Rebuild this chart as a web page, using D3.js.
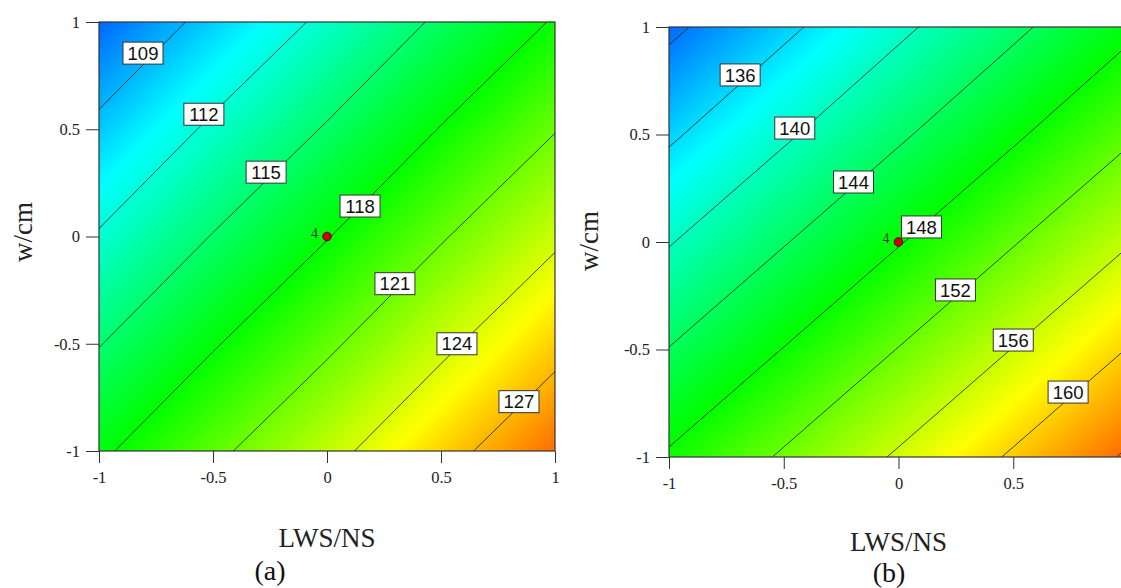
<!DOCTYPE html>
<html><head><meta charset="utf-8">
<script src="https://cdn.jsdelivr.net/npm/d3@7"></script>
<style>body{margin:0;background:#fff;} svg{display:block;}</style>
</head><body>
<svg id="chart" width="1121" height="588"></svg>
<script>
// ---------------- data ----------------
const gridX = [-1, -0.5, 0, 0.5, 1];          // LWS/NS sample positions
const gridY = [1, 0.5, 0, -0.5, -1];          // w/cm sample positions (top row first)

// response, row-major (top row w=1 first)
const surfaceA = [
  106.8, 109.7, 112.5, 115.4, 118.2,
  109.5, 112.4, 115.2, 118.1, 120.9,
  112.2, 115.1, 117.9, 120.8, 123.6,
  114.9, 117.8, 120.6, 123.5, 126.3,
  117.6, 120.5, 123.3, 126.2, 129.0
];
// response
const surfaceB = [
  131.3, 135.3, 139.3, 143.3, 147.3,
  135.5, 139.5, 143.5, 147.5, 151.5,
  139.8, 143.8, 147.8, 151.8, 155.8,
  144.1, 148.1, 152.1, 156.1, 160.1,
  148.4, 152.4, 156.4, 160.4, 164.4
];

const levelsA = [109, 112, 115, 118, 121, 124, 127];
const levelsB = [132, 136, 140, 144, 148, 152, 156, 160, 164];

const labelTextA = ["109", "112", "115", "118", "121", "124", "127"];
const labelXA = [-0.807, -0.54, -0.267, 0.145, 0.298, 0.57, 0.842];
const labelYA = [0.855, 0.57, 0.30, 0.142, -0.22, -0.50, -0.77];

const labelTextB = ["136", "140", "144", "148", "152", "156", "160"];
const labelXB = [-0.69, -0.452, -0.196, 0.10, 0.248, 0.50, 0.739];
const labelYB = [0.777, 0.53, 0.279, 0.07, -0.223, -0.456, -0.698];

const pointX = [0];
const pointY = [0];
const pointText = ["4"];

const tickValues = [-1, -0.5, 0, 0.5, 1];
const tickLabels = ["-1", "-0.5", "0", "0.5", "1"];

const colorStops = ["#0000ff", "#00ffff", "#00ff00", "#ffff00", "#ff0000"];
const colorDomainA = [104, 111, 118, 125, 132];
const colorDomainB = [127, 137.4, 147.8, 158.2, 168.6];

const xTitle = "LWS/NS";
const yTitle = "w/cm";
const panelTags = ["(a)", "(b)"];

// ---------------- drawing ----------------
const W = 1121;
const svg = d3.select("#chart");
const serif = "'Liberation Serif','Times New Roman',serif";
const sans = "'Liberation Sans',Arial,sans-serif";

function drawPanel(cfg) {
  const xs = d3.scaleLinear().domain([-1, 1]).range([cfg.left, cfg.right]);
  const ys = d3.scaleLinear().domain([-1, 1]).range([cfg.bottom, cfg.top]);
  const n = gridX.length, m = gridY.length;
  const gx = d3.scaleLinear().domain([0.5, n - 0.5]).range([gridX[0], gridX[n - 1]]);
  const gy = d3.scaleLinear().domain([0.5, m - 0.5]).range([gridY[0], gridY[m - 1]]);
  const proj = d3.geoTransform({
    point(x, y) { this.stream.point(xs(gx(x)), ys(gy(y))); }
  });
  const path = d3.geoPath(proj);

  const clipId = "clip" + cfg.id;
  svg.append("clipPath").attr("id", clipId).append("rect")
    .attr("x", cfg.left).attr("y", cfg.top)
    .attr("width", cfg.right - cfg.left).attr("height", cfg.bottom - cfg.top);

  const g = svg.append("g");
  const plot = g.append("g").attr("clip-path", `url(#${clipId})`);

  const values = cfg.values;
  const lo = d3.min(values), hi = d3.max(values);
  const color = d3.scaleLinear().domain(cfg.colorDomain).range(colorStops).clamp(true);
  const step = (hi - lo) / 260;
  const th = d3.range(lo, hi, step);
  const bands = d3.contours().size([n, m]).thresholds(th)(values);

  plot.append("rect")
    .attr("x", cfg.left).attr("y", cfg.top)
    .attr("width", cfg.right - cfg.left).attr("height", cfg.bottom - cfg.top)
    .attr("fill", color(lo));
  plot.selectAll("path.band").data(bands).join("path")
    .attr("class", "band")
    .attr("d", path)
    .attr("fill", d => color(d.value + step / 2));

  const lines = d3.contours().size([n, m]).thresholds(cfg.levels)(values);
  plot.selectAll("path.iso").data(lines).join("path")
    .attr("class", "iso")
    .attr("d", path)
    .attr("fill", "none")
    .attr("stroke", "#1c2a1c")
    .attr("stroke-width", 0.85);

  // contour labels
  const lab = plot.selectAll("g.lab").data(cfg.labelText).join("g")
    .attr("class", "lab")
    .attr("transform", (d, i) => `translate(${xs(cfg.labelX[i])},${ys(cfg.labelY[i])})`);
  lab.append("rect")
    .attr("x", -20).attr("y", -11).attr("width", 40).attr("height", 22)
    .attr("fill", "#fff").attr("stroke", "#333").attr("stroke-width", 1);
  lab.append("text")
    .attr("text-anchor", "middle").attr("dy", "0.36em")
    .attr("font-family", sans).attr("font-size", 18.5).attr("fill", "#111")
    .text(d => d);

  // design point
  plot.selectAll("circle.pt").data(pointX).join("circle")
    .attr("class", "pt")
    .attr("cx", (d, i) => xs(pointX[i])).attr("cy", (d, i) => ys(pointY[i]))
    .attr("r", 4.3).attr("fill", "#cc0000").attr("stroke", "#5a0000").attr("stroke-width", 1);
  plot.selectAll("text.pt").data(pointText).join("text")
    .attr("class", "pt")
    .attr("x", (d, i) => xs(pointX[i]) - 9).attr("y", (d, i) => ys(pointY[i]) + 1)
    .attr("text-anchor", "end")
    .attr("font-family", serif).attr("font-size", 14).attr("fill", "#333")
    .text(d => d);

  // frame
  g.append("rect")
    .attr("x", cfg.left).attr("y", cfg.top)
    .attr("width", cfg.right - cfg.left).attr("height", cfg.bottom - cfg.top)
    .attr("fill", "none").attr("stroke", "#333").attr("stroke-width", 1.2);

  // axes (ticks whose position falls beyond the page are left out)
  const fmt = v => tickLabels[tickValues.indexOf(v)];
  const xTicks = tickValues.filter(v => xs(v) < W - 4);
  const xa = g.append("g").attr("transform", `translate(0,${cfg.bottom})`)
    .call(d3.axisBottom(xs).tickValues(xTicks).tickFormat(fmt).tickSize(12).tickSizeOuter(0).tickPadding(8));
  const ya = g.append("g").attr("transform", `translate(${cfg.left},0)`)
    .call(d3.axisLeft(ys).tickValues(tickValues).tickFormat(fmt).tickSize(13).tickSizeOuter(0).tickPadding(6));
  [xa, ya].forEach(a => {
    a.select(".domain").remove();
    a.selectAll(".tick line").attr("stroke", "#333").attr("stroke-width", 1);
    a.selectAll(".tick text").attr("font-family", serif).attr("font-size", 16.5).attr("fill", "#222");
  });

  // titles
  g.append("text")
    .attr("x", (cfg.left + cfg.right) / 2).attr("y", cfg.xTitleY)
    .attr("text-anchor", "middle")
    .attr("font-family", serif).attr("font-size", 27).attr("fill", "#222")
    .text(xTitle);
  g.append("text")
    .attr("transform", `translate(${cfg.yTitleX},${cfg.yTitleY}) rotate(-90)`)
    .attr("text-anchor", "middle").attr("dy", "0.35em")
    .attr("font-family", serif).attr("font-size", 27).attr("fill", "#222")
    .text(yTitle);
  g.append("text")
    .attr("x", cfg.tagX).attr("y", cfg.tagY)
    .attr("text-anchor", "middle")
    .attr("font-family", serif).attr("font-size", 28).attr("fill", "#111")
    .text(cfg.tag);
}

drawPanel({
  id: "A", left: 99, right: 555, top: 22, bottom: 451,
  values: surfaceA, levels: levelsA, colorDomain: colorDomainA,
  labelText: labelTextA, labelX: labelXA, labelY: labelYA,
  xTitleY: 547, yTitleX: 23, yTitleY: 232,
  tag: panelTags[0], tagX: 270, tagY: 580
});
drawPanel({
  id: "B", left: 669, right: 1128, top: 27, bottom: 457,
  values: surfaceB, levels: levelsB, colorDomain: colorDomainB,
  labelText: labelTextB, labelX: labelXB, labelY: labelYB,
  xTitleY: 551, yTitleX: 589, yTitleY: 241,
  tag: panelTags[1], tagX: 889, tagY: 582
});
</script>
</body></html>
